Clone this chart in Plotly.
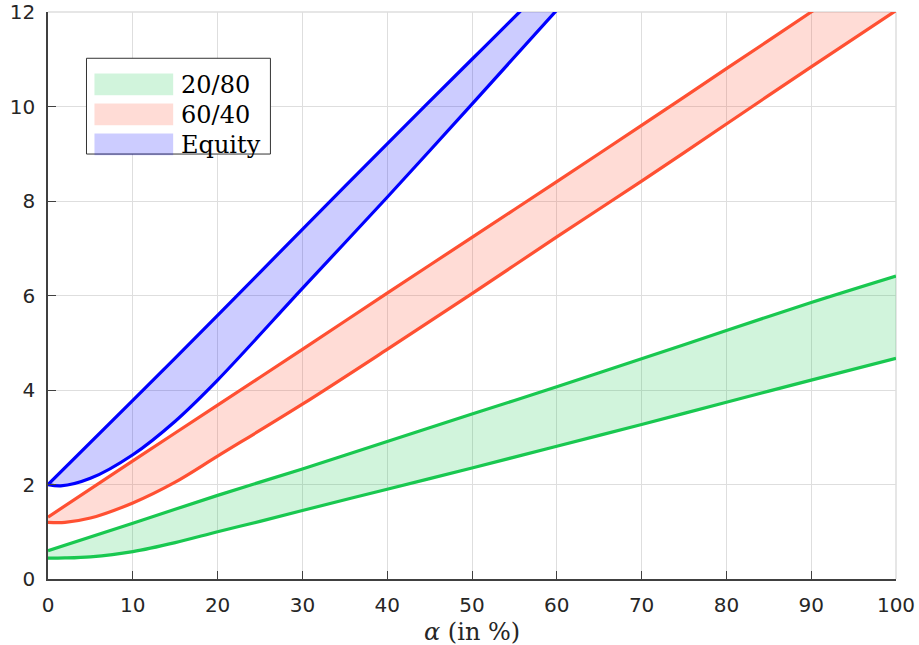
import plotly.graph_objects as go

# ---- data ----
green_up_x = [0, 10, 20, 30, 40, 50, 60, 70, 80, 90, 100]
green_up_y = [0.60, 1.18, 1.77, 2.33, 2.91, 3.49, 4.07, 4.66, 5.26, 5.85, 6.41]
green_lo_x = [0, 2, 5, 10, 15, 20, 25, 30, 40, 50, 60, 70, 80, 90, 100]
green_lo_y = [0.44, 0.445, 0.47, 0.58, 0.77, 1.00, 1.22, 1.45, 1.90, 2.35, 2.81, 3.27, 3.74, 4.21, 4.67]

red_up_x = [0, 10, 20, 30, 40, 50, 60, 70, 80, 90, 100]
red_up_y = [1.31, 2.50, 3.68, 4.86, 6.05, 7.23, 8.41, 9.60, 10.80, 12.00, 13.20]
red_lo_x = [0, 2, 5, 10, 15, 20, 30, 40, 50, 60, 70, 80, 90, 100]
red_lo_y = [1.20, 1.20, 1.29, 1.61, 2.05, 2.60, 3.70, 4.86, 6.04, 7.24, 8.42, 9.63, 10.84, 12.03]

blue_up_x = [0, 10, 20, 30, 40, 50, 55.6, 60]
blue_up_y = [2.00, 3.78, 5.58, 7.40, 9.21, 11.00, 12.00, 12.80]
blue_lo_x = [0, 1.5, 5, 10, 15, 20, 30, 40, 50, 60]
blue_lo_y = [2.00, 1.97, 2.13, 2.63, 3.34, 4.21, 6.15, 8.08, 10.05, 12.04]

legend_labels = ["20/80", "60/40", "Equity"]
x_ticks = list(range(0, 101, 10))
y_ticks = list(range(0, 13, 2))

GREEN = "rgb(25,200,80)"
GREEN_F = "rgba(25,200,80,0.2)"
RED = "rgb(255,80,50)"
RED_F = "rgba(255,80,50,0.2)"
BLUE = "rgb(0,0,255)"
BLUE_F = "rgba(0,0,255,0.2)"

fig = go.Figure()

bands = [
    (green_lo_x, green_lo_y, green_up_x, green_up_y, GREEN, GREEN_F, legend_labels[0]),
    (red_lo_x, red_lo_y, red_up_x, red_up_y, RED, RED_F, legend_labels[1]),
    (blue_lo_x, blue_lo_y, blue_up_x, blue_up_y, BLUE, BLUE_F, legend_labels[2]),
]
for lx, ly, ux, uy, lc, fc, name in bands:
    fig.add_trace(go.Scatter(x=lx, y=ly, mode="lines",
                             line=dict(color=lc, width=3.2, shape="spline", smoothing=0.9),
                             showlegend=False, hoverinfo="skip"))
    fig.add_trace(go.Scatter(x=ux, y=uy, mode="lines", fill="tonexty", fillcolor=fc,
                             line=dict(color=lc, width=3.2, shape="spline", smoothing=0.9),
                             name=name, showlegend=False))

GRID = "rgb(222,222,222)"
AX = "#404040"
axis_font = dict(family="DejaVu Sans, sans-serif", size=20, color="#262626")
fig.update_xaxes(range=[0, 100], tickvals=x_ticks, showgrid=True, gridcolor=GRID,
                 gridwidth=1, zeroline=False, showline=True, linecolor=AX, linewidth=1.5,
                 ticks="inside", ticklen=8, tickcolor=AX, tickfont=axis_font,
                 ticklabelstandoff=7, automargin=False)
fig.update_yaxes(range=[0, 12], tickvals=y_ticks, showgrid=True, gridcolor=GRID,
                 gridwidth=1, zeroline=False, showline=True, linecolor=AX, linewidth=1.5,
                 ticks="inside", ticklen=8, tickcolor=AX, tickfont=axis_font,
                 ticklabelstandoff=7, automargin=False)

shapes = [
    # light top / right box edges
    dict(type="line", xref="paper", yref="paper", x0=0, x1=1, y0=1, y1=1,
         line=dict(color=GRID, width=1.5), layer="below"),
    dict(type="line", xref="paper", yref="paper", x0=1, x1=1, y0=0, y1=1,
         line=dict(color=GRID, width=1.5), layer="below"),
    # legend box
    dict(type="rect", xref="paper", yref="paper", x0=0.0454, x1=0.2623, y0=0.7495, y1=0.9184,
         line=dict(color="#333333", width=1), fillcolor="white", layer="above"),
]
rows = [(0.8532, 0.8914, GREEN_F, 0.8713), (0.8004, 0.8386, RED_F, 0.8185), (0.7474, 0.7857, BLUE_F, 0.7656)]
annotations = []
for (y0, y1, fc, yc), lab in zip(rows, legend_labels):
    shapes.append(dict(type="rect", xref="paper", yref="paper", x0=0.0548, x1=0.1476, y0=y0, y1=y1,
                       line=dict(width=0), fillcolor=fc, layer="above"))
    annotations.append(dict(xref="paper", yref="paper", x=0.1539, y=yc, text=lab, showarrow=False,
                            xanchor="left", yanchor="middle",
                            font=dict(family="DejaVu Serif, serif", size=24, color="#000000")))

annotations.append(dict(xref="paper", yref="paper", x=0.5, y=-0.093, text="<i>α</i> (in %)",
                        showarrow=False, xanchor="center", yanchor="middle",
                        font=dict(family="DejaVu Serif, serif", size=24, color="#262626")))

fig.update_layout(width=919, height=645,
                  margin=dict(l=47.5, r=23.3, t=11.7, b=65.7, autoexpand=False),
                  plot_bgcolor="white", paper_bgcolor="white", showlegend=False,
                  shapes=shapes, annotations=annotations)

fig.write_html("out.html", config={"displayModeBar": False},
               post_script="document.body.style.margin='0px';")
